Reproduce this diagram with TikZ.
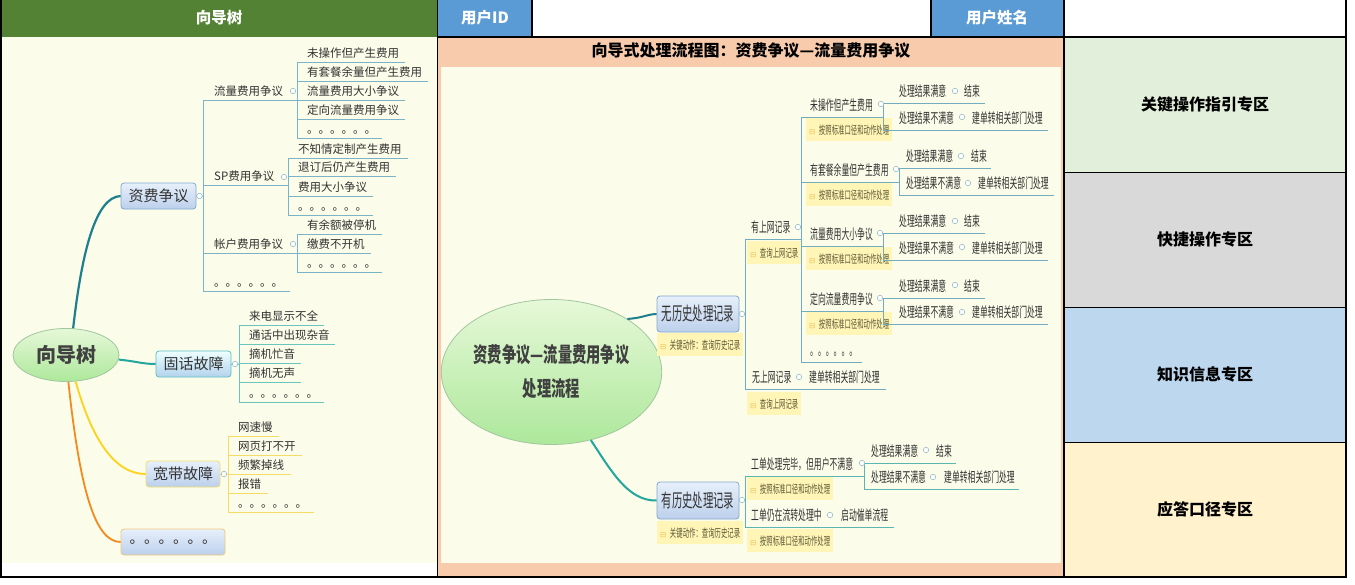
\documentclass[tikz,border=0pt]{standalone}
\usepackage{fontspec}
\setmainfont{Noto Sans CJK SC}
\newfontfamily\fA[FakeStretch=0.56]{Noto Sans CJK SC}
\newfontfamily\fB[FakeStretch=0.68]{Noto Sans CJK SC}
\newfontfamily\symf{DejaVu Sans}
\usetikzlibrary{shapes.geometric}
\definecolor{hdrgreen}{HTML}{548235}
\definecolor{hdrblue}{HTML}{5B9BD5}
\definecolor{cream}{HTML}{FBFCE9}
\definecolor{peach}{HTML}{F8CBAD}
\definecolor{zgreen}{HTML}{E2EFDA}
\definecolor{zgray}{HTML}{D9D9D9}
\definecolor{zblue}{HTML}{BDD7EE}
\definecolor{zyellow}{HTML}{FFF2CC}
\definecolor{txt}{HTML}{333333}
\definecolor{ellT}{HTML}{404040}
\definecolor{lblbg}{HTML}{FFF5B6}
\definecolor{lbltxt}{HTML}{5C5836}
\definecolor{icon}{HTML}{EBC45E}
\definecolor{lnA}{HTML}{7BB4C6}
\definecolor{lnB}{HTML}{68C6BC}
\definecolor{lnC}{HTML}{F6DC62}
\definecolor{lnM}{HTML}{72ADBF}
\definecolor{lnH}{HTML}{5BB5B2}
\definecolor{mk}{HTML}{9CBECB}
\definecolor{cTeal}{HTML}{1E7F8E}
\definecolor{cTeal2}{HTML}{23A69E}
\definecolor{cYel}{HTML}{FFD21A}
\definecolor{cOra}{HTML}{F28A1E}
\definecolor{ellE}{HTML}{E6F8D8}
\definecolor{ellS}{HTML}{ADE89B}
\definecolor{ellB}{HTML}{A2C6A0}
\definecolor{boxT}{HTML}{E7F0FB}
\definecolor{boxB}{HTML}{BCD0EC}
\definecolor{boxD}{HTML}{82A9CE}
\definecolor{bdTeal}{HTML}{5EC0C6}
\definecolor{bdYel}{HTML}{F3DF6B}
\definecolor{bdOra}{HTML}{F2C77E}
\tikzset{
 xlt/.style={text=txt, inner sep=0pt, anchor=base west, yshift=4.6pt, font=\fontsize{11.5}{12}\selectfont},
 xmt/.style={text=txt, inner sep=0pt, anchor=base west, yshift=6.7pt, font=\fA\fontsize{14}{14}\selectfont},
 xlb/.style={fill=lblbg, inner xsep=3pt, inner ysep=0pt, anchor=north west, minimum height=23pt, text=lbltxt, font=\fA\fontsize{11.4}{12}\selectfont},
 xmk/.style={circle, draw=mk, fill=white, minimum size=5.5pt, inner sep=0pt, line width=.6pt},
 xbox/.style={rectangle, rounded corners=3pt, top color=boxT, bottom color=boxB, draw=boxD, line width=.8pt, inner sep=0pt, text=txt},
 xell/.style={ellipse, top color=ellE, bottom color=ellS, draw=ellB, line width=.8pt, inner sep=0pt, text=ellT},
 bA/.style={draw=lnA, line width=1pt},
 bB/.style={draw=lnB, line width=1pt},
 bC/.style={draw=lnC, line width=1pt},
 bM/.style={draw=lnM, line width=1pt},
 bH/.style={draw=lnH, line width=1pt},
 xhd/.style={font=\bfseries\fontsize{15.5}{16}\selectfont, text=white},
 xzone/.style={font=\bfseries\fontsize{16}{17}\selectfont, text=black},
 grid/.style={draw=black, line width=1.3pt},
}
\newcommand\ico{{\symf\fontsize{7.5}{8}\selectfont\color{icon}⊟}\hspace{3.5pt}}
\newcommand\utopic[8]{\draw[#2] (#4,#6) -- (#5,#6); \node[#3] (#1) at (#4+#7,#6) {#8};}
\begin{document}
\begin{tikzpicture}[x=1pt,y=-1pt]
\useasboundingbox (0,0) rectangle (1355,584);
% ---------- backgrounds ----------
\fill[white] (0,0) rectangle (1355,584);
\fill[hdrgreen] (0,0) rectangle (437.5,37);
\fill[cream] (0,37) rectangle (437.5,563);
\fill[hdrblue] (437.5,0) rectangle (532,37);
\fill[hdrblue] (931,0) rectangle (1064,37);
\fill[peach] (437.5,37) rectangle (1064,577);
\fill[cream] (441,67) rectangle (1061,563);
\fill[zgreen] (1064,37) rectangle (1346,172);
\fill[zgray] (1064,172) rectangle (1346,307);
\fill[zblue] (1064,307) rectangle (1346,442);
\fill[zyellow] (1064,442) rectangle (1346,577);
\draw[grid] (437.5,0) -- (437.5,577);
\draw[grid] (532,0) -- (532,37);
\draw[grid] (931,0) -- (931,37);
\draw[grid] (1064,0) -- (1064,577);
\draw[grid] (437.5,37) -- (1346,37);
\draw[draw=black, line width=.9pt] (1064,172) -- (1346,172);
\draw[draw=black, line width=.9pt] (1064,307) -- (1346,307);
\draw[draw=black, line width=.9pt] (1064,442) -- (1346,442);
\draw[draw=black, line width=2pt] (1,0) -- (1,577) -- (1346,577) -- (1346,0);
% ---------- header texts ----------
\node[xhd] (h1) at (219,18) {向导树};
\node[xhd] (h2) at (485,18) {用户ID};
\node[xhd] (h3) at (997,18) {用户姓名};
\node[font=\bfseries\fontsize{16}{17}\selectfont] (ttl) at (751,51) {向导式处理流程图：资费争议—流量费用争议};
\node[xzone] (z1) at (1205,104) {关键操作指引专区};
\node[xzone] (z2) at (1205,239) {快捷操作专区};
\node[xzone] (z3) at (1205,374) {知识信息专区};
\node[xzone] (z4) at (1205,509) {应答口径专区};
% ---------- left mind map ----------
\node[xell, minimum width=106pt, minimum height=53pt, font=\bfseries\fontsize{20}{22}\selectfont] (root) at (66,355) {向导树};
\node[xbox, minimum width=75pt, minimum height=26pt, font=\fontsize{15}{16}\selectfont] (zf) at (158.5,196) {资费争议};
\node[xbox, top color=white!30!cyan!10, bottom color=cyan!5!boxB, draw=bdTeal, minimum width=75pt, minimum height=26pt, font=\fontsize{15}{16}\selectfont] (gh) at (193.5,364) {固话故障};
\node[xbox, draw=bdYel, minimum width=74pt, minimum height=26pt, font=\fontsize{15}{16}\selectfont] (kd) at (183,474) {宽带故障};
\node[xbox, draw=bdOra, minimum width=104pt, minimum height=26pt, font=\fontsize{14.5}{15}\selectfont] (ot) at (173,542) {。。。。。。};
\draw[cTeal, line width=2.2pt] (root.75) .. controls (82,250) and (96,197) .. (zf.west);
\draw[cTeal2, line width=2pt] (root.-5) .. controls (135,361) and (142,364) .. (gh.west);
\draw[cYel, line width=1.8pt] (root.-70) .. controls (92,440) and (115,474) .. (kd.west);
\draw[cOra, line width=1.8pt] (root.-85) .. controls (80,490) and (95,542) .. (ot.west);
% 资费争议
\draw[bA] (203,100) -- (203,291);
\draw[bA] (zf.east) -- (203,196);
\utopic{ll}{bA}{xlt}{203}{297}{100}{11}{流量费用争议}
\utopic{sp}{bA}{xlt}{203}{288}{185}{11}{SP费用争议}
\utopic{zh}{bA}{xlt}{203}{297}{253}{11}{帐户费用争议}
\utopic{dd}{bA}{xlt}{203}{290}{291}{11}{。。。。。。}
\draw[bA] (297,62) -- (297,138);
\utopic{a1}{bA}{xlt}{297}{405}{62}{10}{未操作但产生费用}
\utopic{a2}{bA}{xlt}{297}{428}{81}{10}{有套餐余量但产生费用}
\utopic{a3}{bA}{xlt}{297}{405}{100}{10}{流量费用大小争议}
\utopic{a4}{bA}{xlt}{297}{405}{119}{10}{定向流量费用争议}
\utopic{a5}{bA}{xlt}{297}{382}{138}{10}{。。。。。。}
\draw[bA] (288,158) -- (288,215);
\utopic{b1}{bA}{xlt}{288}{408}{158}{10}{不知情定制产生费用}
\utopic{b2}{bA}{xlt}{288}{396}{176}{10}{退订后仍产生费用}
\utopic{b3}{bA}{xlt}{288}{373}{196}{10}{费用大小争议}
\utopic{b4}{bA}{xlt}{288}{373}{215}{10}{。。。。。。}
\draw[bA] (297,234) -- (297,272);
\utopic{c1}{bA}{xlt}{297}{382}{234}{10}{有余额被停机}
\utopic{c2}{bA}{xlt}{297}{371}{253}{10}{缴费不开机}
\utopic{c3}{bA}{xlt}{297}{382}{272}{10}{。。。。。。}
\node[xmk] (mzf) at (199.5,196) {};
\node[xmk] (mll) at (293,91) {};
\node[xmk] (msp) at (284,177) {};
\node[xmk] (mzh) at (293,244) {};
% 固话故障
\draw[bB] (239,325) -- (239,402);
\draw[bB] (gh.east) -- (239,364);
\utopic{e1}{bB}{xlt}{239}{324}{325}{10}{来电显示不全}
\utopic{e2}{bB}{xlt}{239}{335}{344}{10}{通话中出现杂音}
\utopic{e3}{bB}{xlt}{239}{301}{363}{10}{摘机忙音}
\utopic{e4}{bB}{xlt}{239}{301}{382}{10}{摘机无声}
\utopic{e5}{bB}{xlt}{239}{324}{402}{10}{。。。。。。}
\node[xmk] (mgh) at (235,364) {};
% 宽带故障
\draw[bC] (228,436) -- (228,512);
\draw[bC] (kd.east) -- (228,474);
\utopic{f1}{bC}{xlt}{228}{279}{436}{10}{网速慢}
\utopic{f2}{bC}{xlt}{228}{302}{455}{10}{网页打不开}
\utopic{f3}{bC}{xlt}{228}{291}{474}{10}{频繁掉线}
\utopic{f4}{bC}{xlt}{228}{268}{493}{10}{报错}
\utopic{f5}{bC}{xlt}{228}{314}{512}{10}{。。。。。。}
\node[xmk] (mkd) at (224,474) {};
% ---------- middle mind map ----------
\node[xell, minimum width=209pt, minimum height=145pt, align=center, font=\fB\bfseries\fontsize{21}{34}\selectfont] (cen) at (551.5,372) {资费争议—流量费用争议\\处理流程};
\node[xbox, minimum width=82pt, minimum height=36pt, font=\fA\fontsize{18.5}{19}\selectfont] (nh) at (698,314) {无历史处理记录};
\node[xbox, minimum width=82pt, minimum height=37pt, font=\fA\fontsize{18.5}{19}\selectfont] (yh) at (698,500.5) {有历史处理记录};
\node[xlb] (nhl) at (657,333) {\ico 关键动作：查询历史记录};
\node[xlb] (yhl) at (657,521) {\ico 关键动作：查询历史记录};
\draw[cTeal, line width=2pt] (cen.35) .. controls (643,318) and (648,314) .. (nh.west);
\draw[cTeal2, line width=2pt] (cen.-60) .. controls (612,472) and (628,501) .. (yh.west);
% 无历史处理记录
\draw[bM] (745,239) -- (745,389);
\draw[bM] (nh.east) -- (745,314);
\utopic{sw}{bM}{xmt}{745}{801}{239}{6}{有上网记录}
\node[xlb] (swl) at (747,241) {\ico 查询上网记录};
\utopic{nw}{bM}{xmt}{745}{886}{389}{7}{无上网记录}
\node[xmt] (nwe) at (809,389) {建单转相关部门处理};
\node[xlb] (nwl) at (747,392) {\ico 查询上网记录};
\draw[bM] (801,117) -- (801,362);
\utopic{p1}{bM}{xmt}{801}{883}{117}{9}{未操作但产生费用}
\node[xlb] (p1l) at (806,118) {\ico 按照标准口径和动作处理};
\utopic{p2}{bM}{xmt}{801}{899}{182}{9}{有套餐余量但产生费用}
\node[xlb] (p2l) at (806,183) {\ico 按照标准口径和动作处理};
\utopic{p3}{bM}{xmt}{801}{883}{246}{9}{流量费用大小争议}
\node[xlb] (p3l) at (806,247) {\ico 按照标准口径和动作处理};
\utopic{p4}{bM}{xmt}{801}{883}{311}{9}{定向流量费用争议}
\node[xlb] (p4l) at (806,312) {\ico 按照标准口径和动作处理};
\utopic{p5}{bM}{xmt}{801}{862}{362}{9}{。。。。。。}
% level 3
\draw[bM] (883,103) -- (883,130);
\utopic{q11}{bM}{xmt}{883}{985}{103}{16}{处理结果满意}
\node[xmt] (q11e) at (964,103) {结束};
\utopic{q12}{bM}{xmt}{883}{1048}{130}{16}{处理结果不满意}
\node[xmt] (q12e) at (972,130) {建单转相关部门处理};
\draw[bM] (899,168) -- (899,195);
\utopic{q21}{bM}{xmt}{899}{991}{168}{7}{处理结果满意}
\node[xmt] (q21e) at (971,168) {结束};
\utopic{q22}{bM}{xmt}{899}{1054}{195}{7}{处理结果不满意}
\node[xmt] (q22e) at (978,195) {建单转相关部门处理};
\draw[bM] (883,233) -- (883,260);
\utopic{q31}{bM}{xmt}{883}{985}{233}{16}{处理结果满意}
\node[xmt] (q31e) at (964,233) {结束};
\utopic{q32}{bM}{xmt}{883}{1048}{260}{16}{处理结果不满意}
\node[xmt] (q32e) at (972,260) {建单转相关部门处理};
\draw[bM] (883,298) -- (883,324);
\utopic{q41}{bM}{xmt}{883}{985}{298}{16}{处理结果满意}
\node[xmt] (q41e) at (964,298) {结束};
\utopic{q42}{bM}{xmt}{883}{1048}{324}{16}{处理结果不满意}
\node[xmt] (q42e) at (972,324) {建单转相关部门处理};
% 有历史处理记录
\draw[bH] (745,476) -- (745,527);
\draw[bH] (yh.east) -- (745,500);
\utopic{h1}{bH}{xmt}{745}{864}{476}{6}{工单处理完毕，但用户不满意}
\node[xlb] (h1l) at (747,477) {\ico 按照标准口径和动作处理};
\draw[bH] (864,463) -- (864,489);
\utopic{h11}{bH}{xmt}{864}{956}{463}{7}{处理结果满意}
\node[xmt] (h11e) at (936,463) {结束};
\utopic{h12}{bH}{xmt}{864}{1019}{489}{7}{处理结果不满意}
\node[xmt] (h12e) at (944,489) {建单转相关部门处理};
\utopic{h2}{bH}{xmt}{745}{894}{527}{6}{工单仍在流转处理中}
\node[xmt] (h2e) at (841,527) {启动催单流程};
\node[xlb] (h2l) at (747,529) {\ico 按照标准口径和动作处理};
% markers
\node[xmk] (mnh) at (742,314) {};
\node[xmk] (myh) at (742,500) {};
\node[xmk] (msw) at (798,227) {};
\node[xmk] (mnw) at (799,377) {};
\node[xmk] (mp1) at (881,104) {};
\node[xmk] (mp2) at (896,169) {};
\node[xmk] (mp3) at (880,233) {};
\node[xmk] (mp4) at (880,298) {};
\node[xmk] (mq11) at (955,91) {};
\node[xmk] (mq12) at (962,117) {};
\node[xmk] (mq21) at (961,156) {};
\node[xmk] (mq22) at (968,183) {};
\node[xmk] (mq31) at (955,221) {};
\node[xmk] (mq32) at (962,247) {};
\node[xmk] (mq41) at (955,285) {};
\node[xmk] (mq42) at (962,312) {};
\node[xmk] (mh1) at (862,463) {};
\node[xmk] (mh11) at (926,450) {};
\node[xmk] (mh12) at (933,477) {};
\node[xmk] (mh2) at (830,515) {};
\end{tikzpicture}
\end{document}
